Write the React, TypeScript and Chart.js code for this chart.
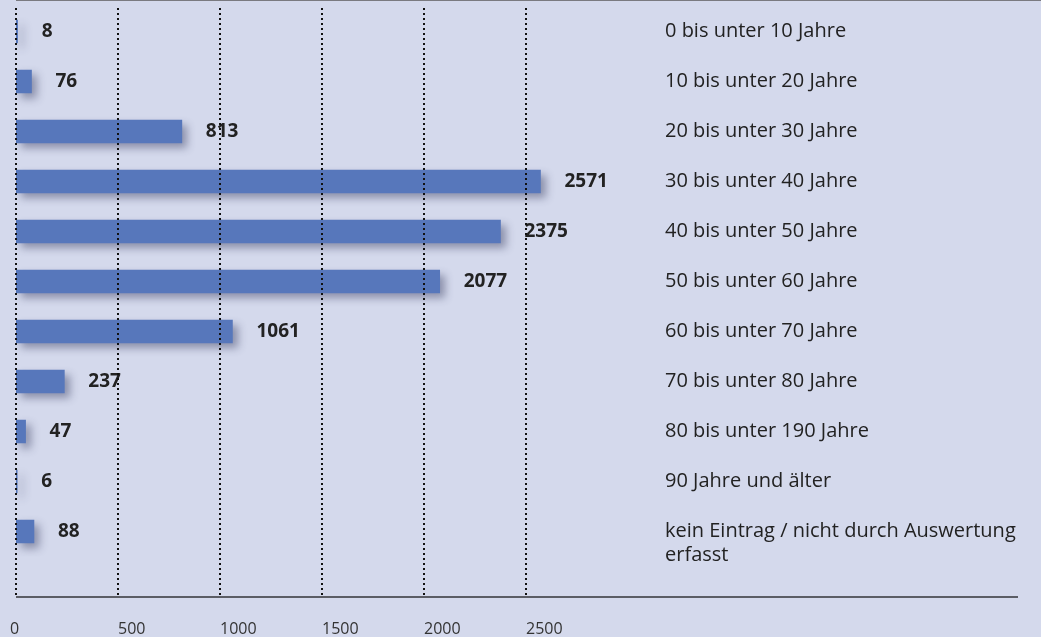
import React, { useEffect, useRef } from "react";
import { Chart, registerables } from "chart.js";

Chart.register(...registerables);

const categories: (string | string[])[] = [
  "0 bis unter 10 Jahre",
  "10 bis unter 20 Jahre",
  "20 bis unter 30 Jahre",
  "30 bis unter 40 Jahre",
  "40 bis unter 50 Jahre",
  "50 bis unter 60 Jahre",
  "60 bis unter 70 Jahre",
  "70 bis unter 80 Jahre",
  "80 bis unter 190 Jahre",
  "90 Jahre und älter",
  ["kein Eintrag / nicht durch Auswertung", "erfasst"],
];

const values: number[] = [8, 76, 813, 2571, 2375, 2077, 1061, 237, 47, 6, 88];

const tickValues: number[] = [0, 500, 1000, 1500, 2000, 2500];
const tickLabels: string[] = ["0", "500", "1000", "1500", "2000", "2500"];

const BG = "#d4d9ec";
const BAR = "#5777bb";
const TEXT = "#222222";

const decorPlugin = {
  id: "decor",
  beforeDatasetsDraw(chart: any) {
    const ctx = chart.ctx;
    ctx.save();
    ctx.shadowColor = "rgba(50,55,90,0.45)";
    ctx.shadowBlur = 8;
    ctx.shadowOffsetX = 5;
    ctx.shadowOffsetY = 5;
  },
  afterDatasetsDraw(chart: any) {
    const ctx = chart.ctx;
    ctx.restore();
    const meta = chart.getDatasetMeta(0);
    const ca = chart.chartArea;
    const yScale = chart.scales.y;
    const xScale = chart.scales.x;
    // value labels
    ctx.save();
    ctx.fillStyle = TEXT;
    ctx.font = "bold 19px 'Open Sans'";
    ctx.textBaseline = "middle";
    ctx.textAlign = "left";
    meta.data.forEach((bar: any, i: number) => {
      ctx.fillText(String(values[i]), bar.x + 24, bar.y);
    });
    ctx.restore();
    // category labels
    ctx.save();
    ctx.fillStyle = TEXT;
    ctx.font = "20px 'Open Sans'";
    ctx.textBaseline = "middle";
    ctx.textAlign = "left";
    categories.forEach((c, i) => {
      const y = yScale.getPixelForValue(i);
      const lines = Array.isArray(c) ? c : [c];
      lines.forEach((ln, j) => {
        ctx.fillText(ln, ca.right + 37, y + j * 24);
      });
    });
    ctx.restore();
    // x tick labels
    ctx.save();
    ctx.fillStyle = "#333333";
    ctx.font = "16px 'Open Sans'";
    ctx.textBaseline = "middle";
    ctx.textAlign = "left";
    tickValues.forEach((v, i) => {
      const x = xScale.getPixelForValue(v);
      ctx.fillText(tickLabels[i], i === 0 ? x - 6 : x, 629);
    });
    ctx.restore();
  },
  afterDraw(chart: any) {
    const ctx = chart.ctx;
    const xScale = chart.scales.x;
    ctx.save();
    // top line
    ctx.strokeStyle = "#7a7a80";
    ctx.lineWidth = 2;
    ctx.beginPath();
    ctx.moveTo(xScale.getPixelForValue(0), 0);
    ctx.lineTo(chart.width, 0);
    ctx.stroke();
    // dotted grid
    ctx.strokeStyle = "#111111";
    ctx.lineWidth = 2;
    ctx.setLineDash([2, 3]);
    tickValues.forEach((v) => {
      const x = Math.round(xScale.getPixelForValue(v));
      ctx.beginPath();
      ctx.moveTo(x, 8);
      ctx.lineTo(x, 596);
      ctx.stroke();
    });
    ctx.setLineDash([]);
    // bottom line
    ctx.strokeStyle = "#333338";
    ctx.lineWidth = 1.5;
    ctx.beginPath();
    ctx.moveTo(xScale.getPixelForValue(0), 597);
    ctx.lineTo(1018, 597);
    ctx.stroke();
    ctx.restore();
  },
};

export default function App() {
  const ref = useRef<HTMLCanvasElement>(null);
  useEffect(() => {
    document.body.style.margin = "0";
    document.body.style.background = BG;
    const chart = new Chart(ref.current!, {
      type: "bar",
      data: {
        labels: categories,
        datasets: [
          {
            data: values,
            backgroundColor: BAR,
            borderWidth: 0,
            barThickness: 23,
          },
        ],
      },
      options: {
        indexAxis: "y",
        animation: false,
        responsive: true,
        maintainAspectRatio: false,
        layout: { padding: { left: 16, top: 6.5, right: 413, bottom: 80.5 } },
        plugins: { legend: { display: false }, tooltip: { enabled: false } },
        scales: {
          y: { display: false, offset: true },
          x: { display: false, min: 0, max: 3000 },
        },
      },
      plugins: [decorPlugin],
    });
    return () => chart.destroy();
  }, []);
  return (
    <div style={{ width: 1041, height: 637, background: BG, position: "relative" }}>
      <canvas ref={ref} />
    </div>
  );
}
